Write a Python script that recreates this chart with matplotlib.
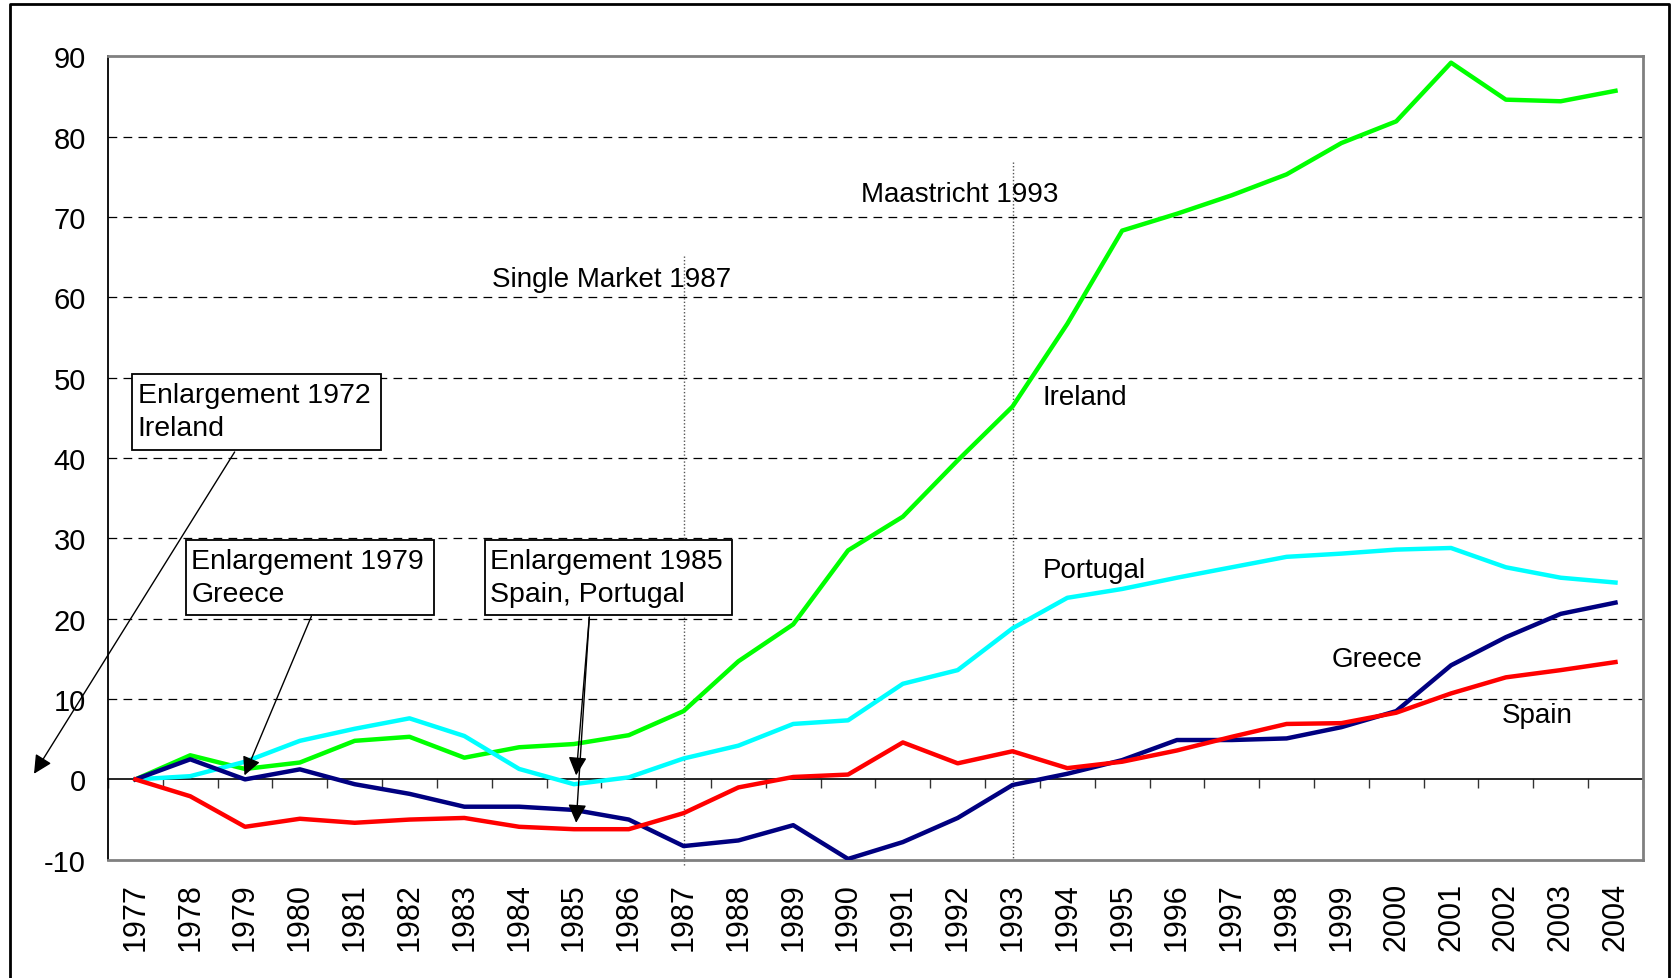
import numpy as np
import matplotlib
matplotlib.use("Agg")
import matplotlib.pyplot as plt
from matplotlib.patches import Rectangle
from matplotlib.lines import Line2D

plt.rcParams['font.family'] = ['Liberation Sans', 'DejaVu Sans']
plt.rcParams['axes.unicode_minus'] = False

# Data
years = [str(y) for y in range(1977, 2005)]
ireland = [0, 3.0, 1.3, 2.1, 4.8, 5.3, 2.7, 4.0, 4.4, 5.5, 8.5, 14.7, 19.3, 28.5,
           32.7, 39.7, 46.4, 56.7, 68.3, 70.4, 72.7, 75.3, 79.2, 81.9, 89.2, 84.6,
           84.4, 85.7]
portugal = [0, 0.4, 2.2, 4.8, 6.3, 7.6, 5.4, 1.3, -0.6, 0.25, 2.6, 4.2, 6.9, 7.35,
            11.9, 13.6, 18.8, 22.6, 23.7, 25.1, 26.4, 27.7, 28.1, 28.6, 28.8, 26.4,
            25.1, 24.5]
greece = [0, 2.5, 0, 1.25, -0.6, -1.8, -3.4, -3.4, -3.8, -5.0, -8.3, -7.6, -5.7, -9.9,
          -7.8, -4.8, -0.7, 0.7, 2.4, 4.9, 4.9, 5.1, 6.5, 8.5, 14.2, 17.7, 20.6, 22.0]
spain = [0, -2.1, -5.9, -4.9, -5.4, -5.0, -4.8, -5.9, -6.2, -6.2, -4.2, -1.0, 0.3, 0.6,
         4.6, 2.0, 3.5, 1.4, 2.2, 3.6, 5.3, 6.9, 7.0, 8.3, 10.7, 12.7, 13.6, 14.6]
yticks = list(range(-10, 100, 10))

x = np.arange(len(years))

fig = plt.figure(figsize=(16.72, 9.79), dpi=100)
ax = fig.add_axes([0.0646, 0.1208, 0.918, 0.8207])

# dashed gridlines
for v in range(10, 90, 10):
    ax.axhline(v, color='black', lw=0.9, ls=(0, (7, 5)), zorder=1)

# event lines
ax.plot([10, 10], [65.2, -10.8], color='#555555', lw=1, ls=(0, (1, 1.5)), clip_on=False, zorder=2)
ax.plot([16, 16], [76.9, -10], color='#555555', lw=1, ls=(0, (1, 1.5)), clip_on=False, zorder=2)

ax.plot(x, ireland, color='#00ff00', lw=3.2, zorder=4)
ax.plot(x, portugal, color='#00ffff', lw=3.2, zorder=4)
ax.plot(x, greece, color='#000080', lw=3.2, zorder=4)
ax.plot(x, spain, color='#ff0000', lw=3.2, zorder=4)

ax.set_xlim(-0.5, len(years) - 0.5)
ax.set_ylim(-10, 90)
ax.set_yticks(yticks)
ax.tick_params(axis='y', length=0, pad=16, labelsize=21)
ax.set_xticks(x)
ax.set_xticklabels(years, rotation=90, fontsize=22)
ax.tick_params(axis='x', length=0, pad=16)

for s in ['top', 'right', 'bottom']:
    ax.spines[s].set_color('#808080')
    ax.spines[s].set_linewidth(2)
ax.spines['left'].set_color('black')
ax.spines['left'].set_linewidth(1.3)

# zero axis with category ticks
zero = ax.secondary_xaxis(0.1)
zero.set_xticks(np.arange(-0.5, len(years)))
zero.set_xticklabels([])
zero.tick_params(direction='out', length=6.5, width=1, color='#333333')
zero.spines['bottom'].set_color('black')
zero.spines['bottom'].set_linewidth(1.2)

# in-chart labels
for tx, ty, s in [(6.51, 62.3, 'Single Market 1987'), (13.24, 72.9, 'Maastricht 1993'),
                  (16.55, 47.6, 'Ireland'), (16.55, 26.0, 'Portugal'),
                  (21.83, 15.0, 'Greece'), (24.93, 8.0, 'Spain')]:
    ax.text(tx, ty, s, fontsize=20, ha='left', va='center', zorder=5)

# annotation boxes
boxes = [(-0.06, 40.95, 4.48, 50.41, 'Enlargement 1972\nIreland'),
         (0.92, 20.41, 5.44, 29.75, 'Enlargement 1979\nGreece'),
         (6.37, 20.41, 10.89, 29.75, 'Enlargement 1985\nSpain, Portugal')]
for x0, y0, x1, y1, s in boxes:
    ax.add_patch(Rectangle((x0, y0), x1 - x0, y1 - y0, facecolor='white',
                           edgecolor='black', lw=1.3, zorder=6, clip_on=False))
    ax.text(x0 + 0.1, y1 - 0.9, s, fontsize=20.5, ha='left', va='top',
            linespacing=1.38, zorder=7)

arrows = [((1.81, 40.75), (-1.85, 0.7)),
          ((3.21, 20.3), (1.99, 0.5)),
          ((8.28, 20.2), (8.04, 0.5)),
          ((8.28, 20.2), (8.04, -5.4))]
for tail, head in arrows:
    ax.annotate('', xy=head, xytext=tail, annotation_clip=False, zorder=8,
                arrowprops=dict(arrowstyle='-|>', color='black', lw=1,
                                mutation_scale=28, shrinkA=0, shrinkB=0))

# outer frame
fig.add_artist(Line2D([0.0058, 0.0058, 0.9985, 0.9985], [-0.01, 0.9949, 0.9949, -0.01],
                      color='black', lw=2, transform=fig.transFigure))

fig.savefig('out.png', dpi=100)
